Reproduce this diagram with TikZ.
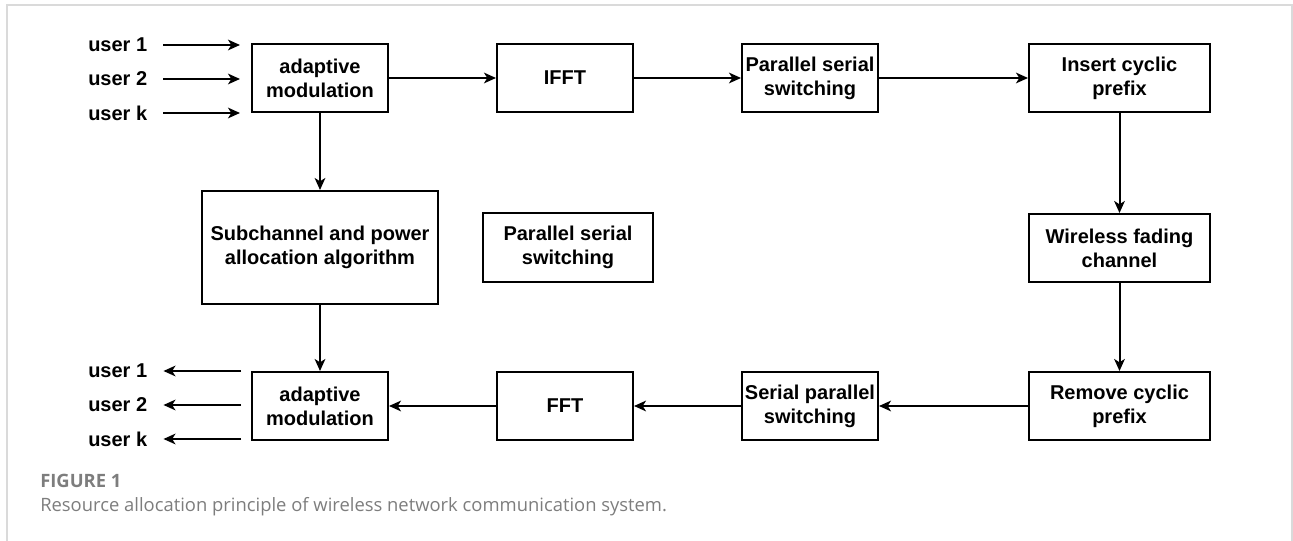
\documentclass[tikz,border=0pt]{standalone}
\usepackage{fontspec}
\setmainfont{Liberation Sans}
\newfontfamily\capfont{Open Sans}
\usetikzlibrary{arrows.meta,positioning}
\definecolor{capgray}{RGB}{125,125,125}
\definecolor{framegray}{RGB}{218,218,218}

\begin{document}
\begin{tikzpicture}
          [x=0.75pt, y=-0.75pt,
          font=\fontsize{15}{18}\selectfont\bfseries,
          block/.style={draw, line width=1.5pt, align=center, minimum width=102pt, minimum height=51pt, inner sep=2pt},
          wideblock/.style={block, minimum width=135.75pt},
          user/.style={inner sep=0pt, anchor=west},
          line/.style={draw, line width=1.5pt, -{Stealth[length=9pt,width=8pt,inset=2.5pt]}},
          caption/.style={anchor=base west, inner sep=0pt, text=capgray}]

          \useasboundingbox (0,0) rectangle (1293,541);
          \draw[framegray, line width=0.8pt] (7,541) -- (7,5) -- (1292,5) -- (1292,541);

          % transmitter row
          \node [block] (amtx) at (320,78) {adaptive\\modulation};
          \node [block] (ifft) at (565,78) {IFFT};
          \node [block] (pstx) at (810,78) {Parallel serial\\switching};
          \node [wideblock] (icp) at (1119.5,78) {Insert cyclic\\prefix};
          % middle row
          \node [block, minimum width=177pt, minimum height=84.75pt] (alloc) at (320,247.5) {Subchannel and power\\allocation algorithm};
          \node [block, minimum width=127.5pt, minimum height=51.75pt] (psmid) at (568,247.5) {Parallel serial\\switching};
          \node [wideblock] (wfc) at (1119.5,248) {Wireless fading\\channel};
          % receiver row
          \node [wideblock] (rcp) at (1119.5,406) {Remove cyclic\\prefix};
          \node [block] (sprx) at (810,406) {Serial parallel\\switching};
          \node [block] (fft) at (565,406) {FFT};
          \node [block] (amrx) at (320,406) {adaptive\\modulation};

          \node [user] (in1) at (88,45) {user 1};
          \node [user] (in2) at (88,79) {user 2};
          \node [user] (ink) at (88,113) {user k};
          \node [user] (out1) at (88,371) {user 1};
          \node [user] (out2) at (88,405) {user 2};
          \node [user] (outk) at (88,439) {user k};

          \node [caption, font=\capfont\fontsize{13.8}{16}\selectfont\bfseries] (fig) at (40,488) {FIGURE 1};
          \node [caption, font=\capfont\fontsize{13.8}{16}\selectfont] (cap) at (40,512) {Resource allocation principle of wireless network communication system.};

          \begin{scope}[every path/.style=line]
              \path [shorten <=12pt, shorten >=8.25pt] (in1.east) -- (in1.east -| amtx.west);
              \path [shorten <=12pt, shorten >=8.25pt] (in2.east) -- (in2.east -| amtx.west);
              \path [shorten <=12pt, shorten >=8.25pt] (ink.east) -- (ink.east -| amtx.west);
              \path (amtx) -- (ifft);
              \path (ifft) -- (pstx);
              \path (pstx) -- (icp);
              \path (icp) -- (wfc);
              \path (wfc) -- (rcp);
              \path (rcp) -- (sprx);
              \path (sprx) -- (fft);
              \path (fft) -- (amrx);
              \path (amtx) -- (alloc);
              \path (alloc) -- (amrx);
              \path [shorten <=7.5pt, shorten >=12pt] (out1.east -| amrx.west) -- (out1.east);
              \path [shorten <=7.5pt, shorten >=12pt] (out2.east -| amrx.west) -- (out2.east);
              \path [shorten <=7.5pt, shorten >=12pt] (outk.east -| amrx.west) -- (outk.east);
          \end{scope}
  \end{tikzpicture}
\end{document}
